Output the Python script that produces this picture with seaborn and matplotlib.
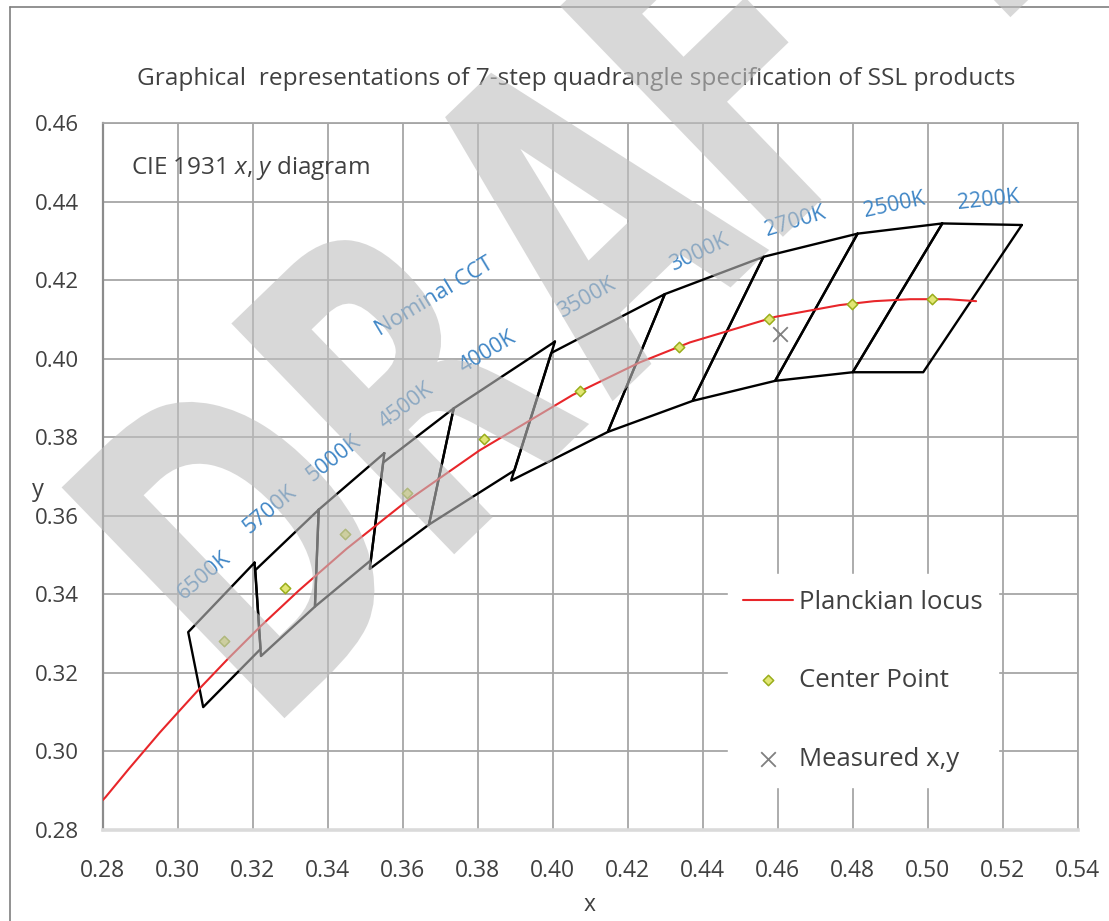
import matplotlib
matplotlib.use("Agg")
import numpy as np
import pandas as pd
import matplotlib.pyplot as plt
import seaborn as sns
from matplotlib.textpath import TextPath
from matplotlib.patches import PathPatch
from matplotlib.font_manager import FontProperties
from matplotlib.transforms import Affine2D, IdentityTransform
from matplotlib.lines import Line2D

# nominal CCT quadrangles, corners in CIE 1931 x, y
cct_names = ["6500K", "5700K", "5000K", "4500K", "4000K",
             "3500K", "3000K", "2700K", "2500K", "2200K"]
quad_x = [
    [0.3205, 0.3028, 0.3068, 0.3221],
    [0.3376, 0.3207, 0.3222, 0.3366],
    [0.3551, 0.3376, 0.3366, 0.3515],
    [0.3736, 0.3548, 0.3512, 0.3670],
    [0.4006, 0.3736, 0.3670, 0.3898],
    [0.4299, 0.3996, 0.3889, 0.4147],
    [0.4562, 0.4299, 0.4147, 0.4373],
    [0.4813, 0.4562, 0.4373, 0.4593],
    [0.5039, 0.4813, 0.4593, 0.4800],
    [0.5251, 0.5039, 0.4800, 0.4988],
]
quad_y = [
    [0.3481, 0.3304, 0.3113, 0.3261],
    [0.3616, 0.3462, 0.3243, 0.3369],
    [0.3760, 0.3616, 0.3369, 0.3487],
    [0.3874, 0.3736, 0.3465, 0.3578],
    [0.4044, 0.3874, 0.3578, 0.3716],
    [0.4165, 0.4015, 0.3690, 0.3814],
    [0.4260, 0.4165, 0.3814, 0.3893],
    [0.4319, 0.4260, 0.3893, 0.3944],
    [0.4345, 0.4319, 0.3944, 0.3966],
    [0.4341, 0.4345, 0.3966, 0.3966],
]
center_x = [0.3123, 0.3287, 0.3447, 0.3611, 0.3818, 0.4073, 0.4338, 0.4578, 0.4799, 0.5012]
center_y = [0.3282, 0.3417, 0.3553, 0.3658, 0.3797, 0.3917, 0.4030, 0.4101, 0.4139, 0.4153]

# Planckian locus, roughly 10000K down to ~2100K
locus_x = [0.2800, 0.2807, 0.2870, 0.2952, 0.3004, 0.3064, 0.3135, 0.3220, 0.3323, 0.3450,
           0.3607, 0.3805, 0.4053, 0.4232, 0.4366, 0.4593, 0.4765, 0.4857, 0.4953, 0.5054, 0.5129]
locus_y = [0.2876, 0.2883, 0.2956, 0.3048, 0.3103, 0.3166, 0.3237, 0.3318, 0.3410, 0.3516,
           0.3635, 0.3767, 0.3908, 0.3991, 0.4042, 0.4107, 0.4137, 0.4147, 0.4152, 0.4152, 0.4147]

measured_x = [0.4606]
measured_y = [0.4064]

x_ticks = [0.28, 0.30, 0.32, 0.34, 0.36, 0.38, 0.40, 0.42, 0.44, 0.46, 0.48, 0.50, 0.52, 0.54]
y_ticks = [0.28, 0.30, 0.32, 0.34, 0.36, 0.38, 0.40, 0.42, 0.44, 0.46]

TXT = "#404040"
BLUE = "#3f86c6"

sns.set_style("white")
plt.rcParams["font.family"] = ["Open Sans", "DejaVu Sans"]
plt.rcParams["mathtext.fontset"] = "custom"
plt.rcParams["mathtext.rm"] = "Open Sans"
plt.rcParams["mathtext.it"] = "Open Sans:italic"

fig = plt.figure(figsize=(11.09, 9.21), dpi=100)
ax = fig.add_axes([0.0926, 0.0988, 0.8792, 0.7673])

# quadrangles
for qx, qy in zip(quad_x, quad_y):
    sns.lineplot(x=qx + qx[:1], y=qy + qy[:1], sort=False, estimator=None,
                 color="black", linewidth=1.7, ax=ax, zorder=3)

sns.lineplot(x=locus_x, y=locus_y, sort=False, estimator=None, color="#e8262a",
             linewidth=1.5, ax=ax, zorder=4, label="Planckian locus")
sns.scatterplot(x=center_x, y=center_y, marker="D", s=28, color="#e2e674",
                edgecolor="#9aae1c", linewidth=1.1, ax=ax, zorder=5, label="Center Point")
sns.scatterplot(x=measured_x, y=measured_y, marker="x", s=110, color="#808080",
                linewidth=1.3, ax=ax, zorder=5, label="Measured x,y")

ax.set_xlim(0.28, 0.54)
ax.set_ylim(0.28, 0.46)
ax.set_xticks(x_ticks)
ax.set_yticks(y_ticks)
ax.set_xticklabels([f"{v:.2f}" for v in x_ticks])
ax.set_yticklabels([f"{v:.2f}" for v in y_ticks])
ax.set_xlabel("")
ax.set_ylabel("")
ax.grid(True, color="#a6a6a6", linewidth=1.3)
ax.set_axisbelow(True)
ax.tick_params(axis="both", direction="out", length=6, width=1.2, color="#8c8c8c",
               labelcolor=TXT)
ax.tick_params(axis="x", labelsize=16.5, pad=15)
ax.tick_params(axis="y", labelsize=16, pad=11)
for side in ["top", "right"]:
    ax.spines[side].set_color("#a6a6a6")
    ax.spines[side].set_linewidth(1.3)
ax.spines["left"].set_color("#8c8c8c")
ax.spines["left"].set_linewidth(1.6)
ax.spines["bottom"].set_color("#dadada")
ax.spines["bottom"].set_linewidth(2.6)

# CCT labels along the upper edge
label_pos = [(0.3070, 0.3448, 40), (0.3246, 0.3616, 40), (0.3417, 0.3746, 38),
             (0.3608, 0.3880, 37), (0.3826, 0.4017, 31), (0.4092, 0.4156, 29),
             (0.4390, 0.4271, 25), (0.4648, 0.4349, 17), (0.4910, 0.4392, 12),
             (0.5162, 0.4403, 6)]
for name, (lx, ly, rot) in zip(cct_names, label_pos):
    ax.text(lx, ly, name, fontsize=15.5, color=BLUE, ha="center", va="center",
            rotation=rot, rotation_mode="anchor", zorder=6)
ax.text(0.3686, 0.4159, "Nominal CCT", fontsize=16, color=BLUE, ha="center",
        va="center", rotation=31, rotation_mode="anchor", zorder=6)
ax.text(0.2875, 0.4487, r"CIE 1931 $x$, $y$ diagram", fontsize=17.5, color=TXT,
        ha="left", va="center", zorder=6)

leg = ax.legend(loc="upper left", bbox_to_anchor=(0.628, 0.380), fontsize=18.5,
                frameon=True, facecolor="white", edgecolor="white", framealpha=1,
                handlelength=1.95, handletextpad=0.2, labelspacing=2.08, borderpad=0.6)
for t in leg.get_texts():
    t.set_color(TXT)
leg.set_zorder(7)

fig.text(576.5 / 1109, 1 - 79 / 921,
         "Graphical  representations of 7-step quadrangle specification of SSL products",
         ha="center", va="center", fontsize=17.6, color=TXT)
fig.text(590 / 1109, 1 - 905 / 921, "x", ha="center", va="center", fontsize=16.5, color=TXT)
fig.text(32 / 1109, 1 - 490 / 921, "y", ha="left", va="center", fontsize=17, color=TXT)

# chart border (left and top only, rest is cropped off)
fig.add_artist(Line2D([10 / 1109, 10 / 1109], [0, 1 - 7 / 921], transform=fig.transFigure,
                      color="#7f7f7f", linewidth=1.2))
fig.add_artist(Line2D([10 / 1109, 1], [1 - 7 / 921, 1 - 7 / 921], transform=fig.transFigure,
                      color="#7f7f7f", linewidth=1.2))

# DRAFT watermark on top of everything, letters placed along a 44 degree baseline
fp = FontProperties(family="DejaVu Sans", weight="bold")
for ch, off in zip("DRAFT", [0, 236, 481, 693, 965]):
    glyph = TextPath((0, 0), ch, size=1, prop=fp)
    tr = Affine2D().scale(285, 440).translate(off, 0).rotate_deg(44).translate(265.6, 184.6)
    fig.add_artist(PathPatch(tr.transform_path(glyph), transform=IdentityTransform(),
                             facecolor=(0.75, 0.75, 0.75), edgecolor="none",
                             alpha=0.6, zorder=20))

fig.savefig("out.png", dpi=100)
